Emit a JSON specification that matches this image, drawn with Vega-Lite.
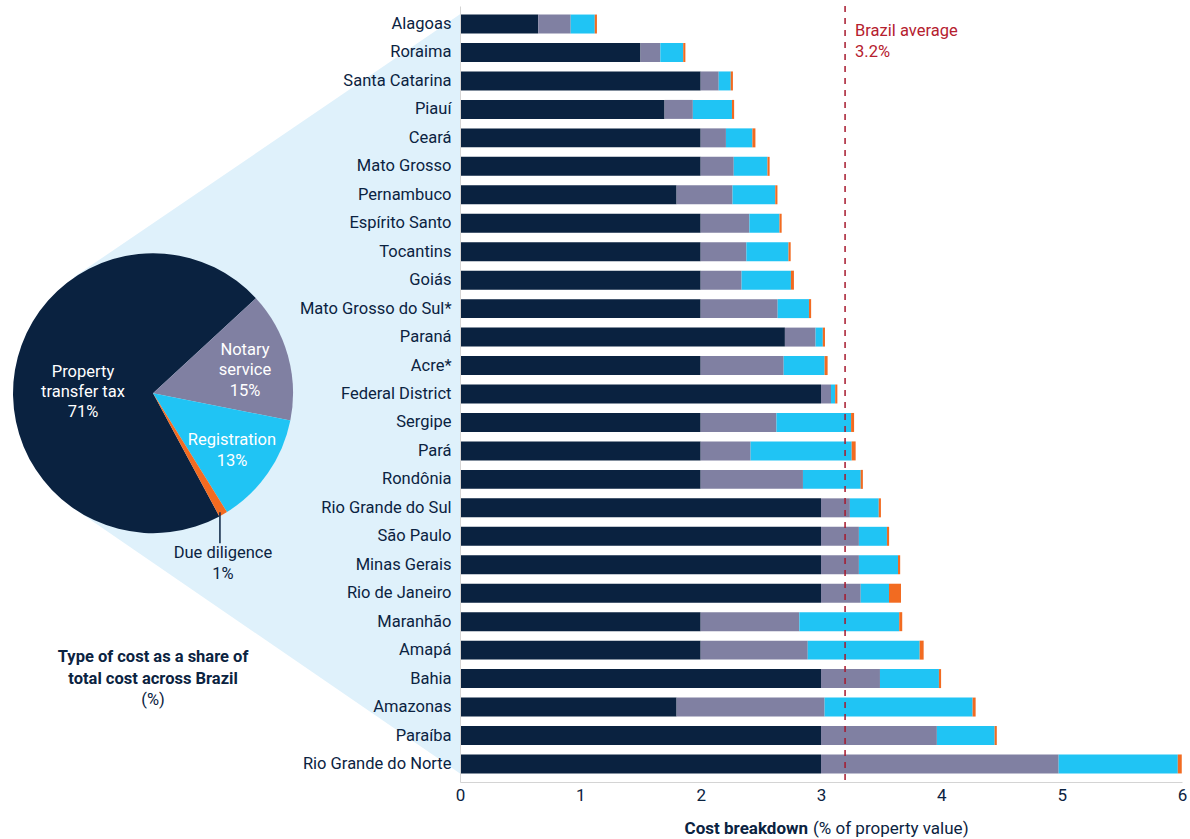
{
  "$schema": "https://vega.github.io/schema/vega-lite/v6.json",
  "autosize": {"type": "none"},
  "width": 722,
  "height": 776,
  "padding": {"left": 460, "top": 6, "right": 8, "bottom": 57},
  "background": "white",
  "config": {"view": {"stroke": null}, "font": "Roboto"},
  "datasets": {
    "states": [
      {"state": "Alagoas", "Property transfer tax": 0.65, "Notary service": 0.27, "Registration": 0.2, "Due diligence": 0.018},
      {"state": "Roraima", "Property transfer tax": 1.5, "Notary service": 0.165, "Registration": 0.19, "Due diligence": 0.018},
      {"state": "Santa Catarina", "Property transfer tax": 2.0, "Notary service": 0.15, "Registration": 0.1, "Due diligence": 0.018},
      {"state": "Piauí", "Property transfer tax": 1.7, "Notary service": 0.235, "Registration": 0.325, "Due diligence": 0.018},
      {"state": "Ceará", "Property transfer tax": 2.0, "Notary service": 0.21, "Registration": 0.22, "Due diligence": 0.025},
      {"state": "Mato Grosso", "Property transfer tax": 2.0, "Notary service": 0.275, "Registration": 0.28, "Due diligence": 0.018},
      {"state": "Pernambuco", "Property transfer tax": 1.8, "Notary service": 0.465, "Registration": 0.355, "Due diligence": 0.018},
      {"state": "Espírito Santo", "Property transfer tax": 2.0, "Notary service": 0.405, "Registration": 0.25, "Due diligence": 0.018},
      {"state": "Tocantins", "Property transfer tax": 2.0, "Notary service": 0.38, "Registration": 0.35, "Due diligence": 0.018},
      {"state": "Goiás", "Property transfer tax": 2.0, "Notary service": 0.34, "Registration": 0.41, "Due diligence": 0.025},
      {"state": "Mato Grosso do Sul*", "Property transfer tax": 2.0, "Notary service": 0.64, "Registration": 0.26, "Due diligence": 0.018},
      {"state": "Paraná", "Property transfer tax": 2.7, "Notary service": 0.255, "Registration": 0.06, "Due diligence": 0.018},
      {"state": "Acre*", "Property transfer tax": 2.0, "Notary service": 0.69, "Registration": 0.34, "Due diligence": 0.025},
      {"state": "Federal District", "Property transfer tax": 3.0, "Notary service": 0.083, "Registration": 0.035, "Due diligence": 0.018},
      {"state": "Sergipe", "Property transfer tax": 2.0, "Notary service": 0.63, "Registration": 0.62, "Due diligence": 0.025},
      {"state": "Pará", "Property transfer tax": 2.0, "Notary service": 0.415, "Registration": 0.84, "Due diligence": 0.033},
      {"state": "Rondônia", "Property transfer tax": 2.0, "Notary service": 0.85, "Registration": 0.48, "Due diligence": 0.018},
      {"state": "Rio Grande do Sul", "Property transfer tax": 3.0, "Notary service": 0.24, "Registration": 0.24, "Due diligence": 0.018},
      {"state": "São Paulo", "Property transfer tax": 3.0, "Notary service": 0.315, "Registration": 0.233, "Due diligence": 0.018},
      {"state": "Minas Gerais", "Property transfer tax": 3.0, "Notary service": 0.315, "Registration": 0.325, "Due diligence": 0.018},
      {"state": "Rio de Janeiro", "Property transfer tax": 3.0, "Notary service": 0.33, "Registration": 0.235, "Due diligence": 0.1},
      {"state": "Maranhão", "Property transfer tax": 2.0, "Notary service": 0.82, "Registration": 0.83, "Due diligence": 0.025},
      {"state": "Amapá", "Property transfer tax": 2.0, "Notary service": 0.89, "Registration": 0.93, "Due diligence": 0.033},
      {"state": "Bahia", "Property transfer tax": 3.0, "Notary service": 0.49, "Registration": 0.49, "Due diligence": 0.018},
      {"state": "Amazonas", "Property transfer tax": 1.8, "Notary service": 1.23, "Registration": 1.23, "Due diligence": 0.025},
      {"state": "Paraíba", "Property transfer tax": 3.0, "Notary service": 0.963, "Registration": 0.48, "Due diligence": 0.018},
      {"state": "Rio Grande do Norte", "Property transfer tax": 3.0, "Notary service": 1.975, "Registration": 0.99, "Due diligence": 0.033}
    ],
    "types": [
      {"type": "Property transfer tax", "rank": 1, "share": 71},
      {"type": "Notary service", "rank": 2, "share": 15},
      {"type": "Registration", "rank": 3, "share": 13},
      {"type": "Due diligence", "rank": 4, "share": 1}
    ],
    "funnel": [
      {"fx": -3.208, "top": 8.89, "bottom": 17.02},
      {"fx": 0, "top": -0.34, "bottom": 26.33}
    ],
    "one": [{}]
  },
  "resolve": {"scale": {"y": "independent"}},
  "layer": [
    {
      "data": {"name": "funnel"},
      "mark": {"type": "area", "color": "#dff1fb", "orient": "vertical"},
      "encoding": {
        "x": {"field": "fx", "type": "quantitative", "scale": {"domain": [0, 6], "nice": false, "zero": false}},
        "y": {"field": "top", "type": "quantitative", "scale": {"domain": [-0.6335, 26.632], "reverse": true, "nice": false, "zero": false}, "axis": null},
        "y2": {"field": "bottom"}
      }
    },
    {
      "data": {"name": "states"},
      "transform": [
        {"fold": ["Property transfer tax", "Notary service", "Registration", "Due diligence"], "as": ["type", "value"]},
        {"lookup": "type", "from": {"data": {"name": "types"}, "key": "type", "fields": ["rank"]}}
      ],
      "mark": {"type": "bar"},
      "encoding": {
        "y": {
          "field": "state", "type": "nominal", "sort": null,
          "scale": {"paddingInner": 0.333, "paddingOuter": 0.3},
          "axis": {"title": null, "domainColor": "#d4d4d4", "ticks": false, "labelPadding": 9, "labelFontSize": 16.5, "labelColor": "#0b2341", "labelLimit": 300, "zindex": 1}
        },
        "x": {
          "field": "value", "type": "quantitative", "stack": "zero",
          "scale": {"domain": [0, 6], "nice": false, "zero": false},
          "axis": {"title": null, "domainColor": "#d4d4d4", "ticks": false, "grid": false, "values": [0, 1, 2, 3, 4, 5, 6], "format": "d", "labelPadding": 5, "labelFontSize": 17, "labelColor": "#0b2341", "labelFlush": false, "zindex": 1}
        },
        "color": {
          "field": "type", "type": "nominal",
          "scale": {"domain": ["Property transfer tax", "Notary service", "Registration", "Due diligence"], "range": ["#0a2240", "#8080a2", "#20c4f4", "#f26b21"]},
          "legend": null
        },
        "order": {"field": "rank", "type": "quantitative"}
      }
    },
    {
      "data": {"name": "one"},
      "mark": {"type": "rule", "color": "#a6192e", "strokeWidth": 1.5, "strokeDash": [6, 6]},
      "encoding": {"x": {"datum": 3.2, "type": "quantitative", "scale": {"domain": [0, 6], "nice": false, "zero": false}}}
    },
    {
      "data": {"name": "one"},
      "mark": {"type": "text", "text": ["Brazil average", "3.2%"], "align": "left", "baseline": "middle", "dx": 10, "fontSize": 16.5, "lineHeight": 21, "color": "#b5202e"},
      "encoding": {
        "x": {"datum": 3.2, "type": "quantitative", "scale": {"domain": [0, 6], "nice": false, "zero": false}},
        "y": {"datum": 0.246, "type": "quantitative", "scale": {"domain": [-0.6335, 26.632], "reverse": true, "nice": false, "zero": false}, "axis": null}
      }
    },
    {
      "data": {"name": "types"},
      "mark": {"type": "arc", "outerRadius": 140},
      "encoding": {
        "theta": {"field": "share", "type": "quantitative", "stack": true, "scale": {"range": [2.6477, 8.9309]}},
        "order": {"field": "rank", "type": "quantitative"},
        "color": {"field": "type", "type": "nominal", "legend": null},
        "x": {"datum": -2.551, "type": "quantitative", "scale": {"domain": [0, 6], "nice": false, "zero": false}},
        "y": {"datum": 12.97, "type": "quantitative", "scale": {"domain": [-0.6335, 26.632], "reverse": true, "nice": false, "zero": false}, "axis": null}
      }
    },
    {
      "data": {"name": "one"},
      "mark": {"type": "text", "text": ["Property", "transfer tax", "71%"], "align": "center", "baseline": "middle", "fontSize": 16.5, "lineHeight": 20, "color": "white"},
      "encoding": {
        "x": {"datum": -3.133, "type": "quantitative", "scale": {"domain": [0, 6], "nice": false, "zero": false}},
        "y": {"datum": 12.23, "type": "quantitative", "scale": {"domain": [-0.6335, 26.632], "reverse": true, "nice": false, "zero": false}, "axis": null}
      }
    },
    {
      "data": {"name": "one"},
      "mark": {"type": "text", "text": ["Notary", "service", "15%"], "align": "center", "baseline": "middle", "fontSize": 16.5, "lineHeight": 20.5, "color": "white"},
      "encoding": {
        "x": {"datum": -1.787, "type": "quantitative", "scale": {"domain": [0, 6], "nice": false, "zero": false}},
        "y": {"datum": 11.45, "type": "quantitative", "scale": {"domain": [-0.6335, 26.632], "reverse": true, "nice": false, "zero": false}, "axis": null}
      }
    },
    {
      "data": {"name": "one"},
      "mark": {"type": "text", "text": ["Registration", "13%"], "align": "center", "baseline": "middle", "fontSize": 16.5, "lineHeight": 21, "color": "white"},
      "encoding": {
        "x": {"datum": -1.895, "type": "quantitative", "scale": {"domain": [0, 6], "nice": false, "zero": false}},
        "y": {"datum": 14.62, "type": "quantitative", "scale": {"domain": [-0.6335, 26.632], "reverse": true, "nice": false, "zero": false}, "axis": null}
      }
    },
    {
      "data": {"name": "one"},
      "mark": {"type": "rule", "color": "#0b2341", "strokeWidth": 1.5},
      "encoding": {
        "x": {"datum": -1.995, "type": "quantitative", "scale": {"domain": [0, 6], "nice": false, "zero": false}},
        "y": {"datum": 17.15, "type": "quantitative", "scale": {"domain": [-0.6335, 26.632], "reverse": true, "nice": false, "zero": false}, "axis": null},
        "y2": {"datum": 18.24}
      }
    },
    {
      "data": {"name": "one"},
      "mark": {"type": "text", "text": ["Due diligence", "1%"], "align": "center", "baseline": "middle", "fontSize": 16.5, "lineHeight": 21, "color": "#0b2341"},
      "encoding": {
        "x": {"datum": -1.97, "type": "quantitative", "scale": {"domain": [0, 6], "nice": false, "zero": false}},
        "y": {"datum": 18.59, "type": "quantitative", "scale": {"domain": [-0.6335, 26.632], "reverse": true, "nice": false, "zero": false}, "axis": null}
      }
    },
    {
      "data": {"name": "one"},
      "mark": {"type": "text", "text": ["Type of cost as a share of", "total cost across Brazil"], "align": "center", "baseline": "middle", "fontSize": 16.5, "fontWeight": "bold", "lineHeight": 22, "color": "#0b2341"},
      "encoding": {
        "x": {"datum": -2.551, "type": "quantitative", "scale": {"domain": [0, 6], "nice": false, "zero": false}},
        "y": {"datum": 22.24, "type": "quantitative", "scale": {"domain": [-0.6335, 26.632], "reverse": true, "nice": false, "zero": false}, "axis": null}
      }
    },
    {
      "data": {"name": "one"},
      "mark": {"type": "text", "text": "(%)", "align": "center", "baseline": "middle", "fontSize": 16.5, "color": "#0b2341"},
      "encoding": {
        "x": {"datum": -2.551, "type": "quantitative", "scale": {"domain": [0, 6], "nice": false, "zero": false}},
        "y": {"datum": 23.75, "type": "quantitative", "scale": {"domain": [-0.6335, 26.632], "reverse": true, "nice": false, "zero": false}, "axis": null}
      }
    },
    {
      "data": {"name": "one"},
      "mark": {"type": "text", "text": "Cost breakdown", "align": "right", "baseline": "middle", "dx": -2, "fontSize": 17, "fontWeight": "bold", "color": "#0b2341"},
      "encoding": {
        "x": {"datum": 2.909, "type": "quantitative", "scale": {"domain": [0, 6], "nice": false, "zero": false}},
        "y": {"datum": 28.29, "type": "quantitative", "scale": {"domain": [-0.6335, 26.632], "reverse": true, "nice": false, "zero": false}, "axis": null}
      }
    },
    {
      "data": {"name": "one"},
      "mark": {"type": "text", "text": "(% of property value)", "align": "left", "baseline": "middle", "dx": 3, "fontSize": 17, "color": "#0b2341"},
      "encoding": {
        "x": {"datum": 2.909, "type": "quantitative", "scale": {"domain": [0, 6], "nice": false, "zero": false}},
        "y": {"datum": 28.29, "type": "quantitative", "scale": {"domain": [-0.6335, 26.632], "reverse": true, "nice": false, "zero": false}, "axis": null}
      }
    }
  ]
}
